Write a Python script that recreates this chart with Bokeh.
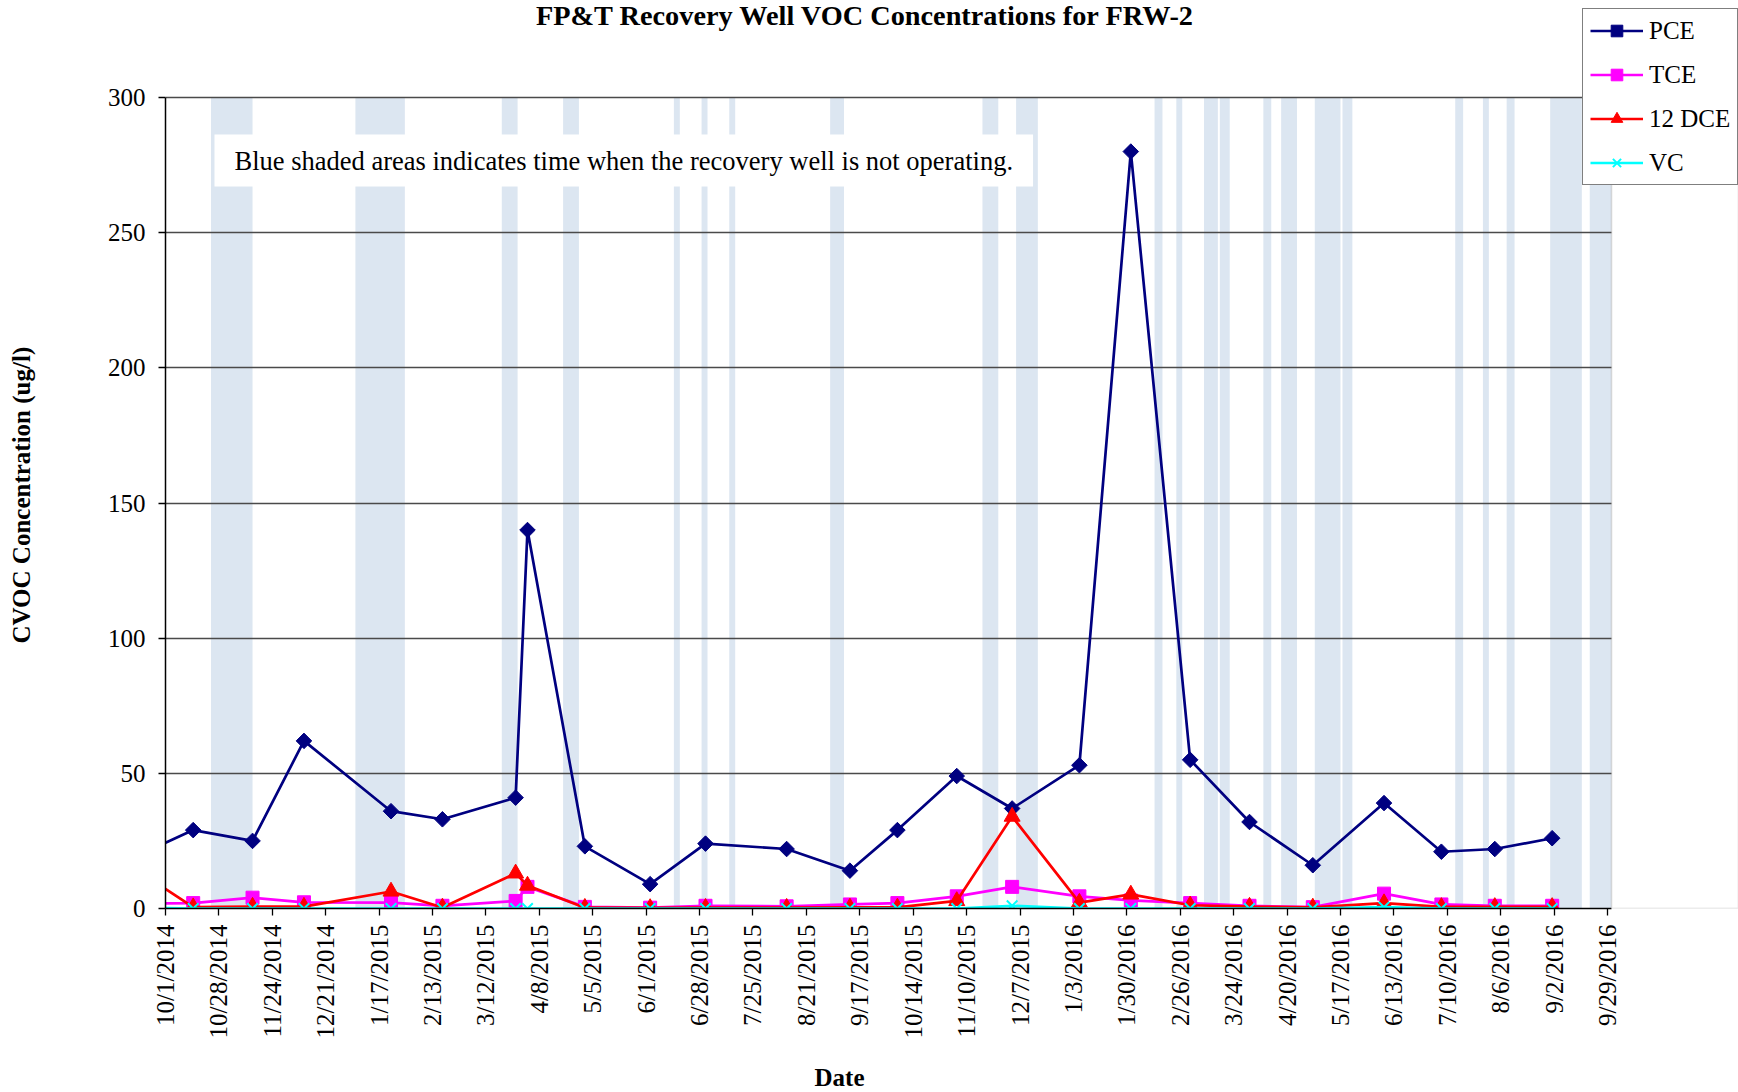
import math
from datetime import datetime
from bokeh.plotting import figure
from bokeh.models import (Range1d, FixedTicker, Label, Legend, LegendItem, Title, BoxAnnotation,
                          LinearAxis)
from bokeh.embed import file_html
from bokeh.resources import INLINE

# ---------------- data ----------------
sample_dates = ["2014-09-15", "2014-10-15", "2014-11-14", "2014-12-10", "2015-01-23",
                "2015-02-18", "2015-03-27", "2015-04-02", "2015-05-01", "2015-06-03",
                "2015-07-01", "2015-08-11", "2015-09-12", "2015-10-06", "2015-11-05",
                "2015-12-03", "2016-01-06", "2016-02-01", "2016-03-02", "2016-04-01",
                "2016-05-03", "2016-06-08", "2016-07-07", "2016-08-03", "2016-09-01"]
pce = [19, 29, 25, 62, 36, 33, 41, 140, 23, 9, 24, 22, 14, 29, 49, 37, 53, 280, 55, 32, 16, 39, 21, 22, 26]
tce = [1.8, 2, 4, 2.3, 2.2, 1, 2.8, 8, 0.6, 0.3, 1, 0.8, 1.5, 2, 4.5, 8, 4.5, 3, 2, 1, 0.5, 5.5, 1.5, 1, 1]
dce12 = [15, 0.5, 0.7, 0.7, 6.3, 0.4, 13, 8.5, 0.3, 0.2, 0.3, 0.3, 0.4, 0.4, 2.8, 34, 2.2, 5.2, 1.2, 0.7, 0.4, 2, 0.6, 0.6, 0.6]
vc = [0.3, 0, 0, 0, 0, 0, 0, 0, 0, 0, 0, 0, 0, 0, 0, 1.0, 0, 0, 0, 0, 0, 0.5, 0, 0, 0]

# periods when the recovery well was not operating
off_start = ["2014-10-24", "2015-01-05", "2015-03-20", "2015-04-20", "2015-06-15", "2015-06-29",
             "2015-07-13", "2015-09-02", "2015-11-18", "2015-12-05", "2016-02-13", "2016-02-24",
             "2016-03-09", "2016-03-17", "2016-04-08", "2016-04-17", "2016-05-04", "2016-05-18",
             "2016-07-14", "2016-07-28", "2016-08-09", "2016-08-31", "2016-09-20"]
off_end = ["2014-11-14", "2015-01-30", "2015-03-28", "2015-04-28", "2015-06-18", "2015-07-02",
           "2015-07-16", "2015-09-09", "2015-11-26", "2015-12-16", "2016-02-17", "2016-02-27",
           "2016-03-16", "2016-03-22", "2016-04-12", "2016-04-25", "2016-05-17", "2016-05-23",
           "2016-07-18", "2016-07-31", "2016-08-13", "2016-09-16", "2016-10-01"]

x_tick_labels = ["10/1/2014", "10/28/2014", "11/24/2014", "12/21/2014", "1/17/2015", "2/13/2015",
                 "3/12/2015", "4/8/2015", "5/5/2015", "6/1/2015", "6/28/2015", "7/25/2015",
                 "8/21/2015", "9/17/2015", "10/14/2015", "11/10/2015", "12/7/2015", "1/3/2016",
                 "1/30/2016", "2/26/2016", "3/24/2016", "4/20/2016", "5/17/2016", "6/13/2016",
                 "7/10/2016", "8/6/2016", "9/2/2016", "9/29/2016"]
y_ticks = [0, 50, 100, 150, 200, 250, 300]
x_start, x_end = "2014-10-01", "2016-10-01"

title_text = "FP&T Recovery Well VOC Concentrations for FRW-2"
y_label_text = "CVOC Concentration (ug/l)"
x_label_text = "Date"
note_text = "Blue shaded areas indicates time when the recovery well is not operating."

# ---------------- layout (pixels) ----------------
W, H = 1738, 1092
PLOT_L, PLOT_R, PLOT_T, PLOT_B = 165, 1611, 97, 908   # plot area of the chart
FONT = "Liberation Serif"

EPOCH = datetime(1970, 1, 1)
def iso(s):
    return datetime.strptime(s, "%Y-%m-%d")
def ms(d):
    return (d - EPOCH).total_seconds() * 1000.0

xs = [iso(s) for s in sample_dates]
tick_ms = [ms(datetime.strptime(s, "%m/%d/%Y")) for s in x_tick_labels]

# the frame runs to the right and top canvas edges, so that legend and title may overlap it
x0, x1 = ms(iso(x_start)), ms(iso(x_end))
x_view_end = x1 + (x1 - x0) * (W - PLOT_R) / (PLOT_R - PLOT_L)
y_view_end = y_ticks[-1] * (PLOT_B - 0) / (PLOT_B - PLOT_T)

p = figure(width=W, height=H, x_axis_type="datetime",
           x_range=Range1d(x0, x_view_end), y_range=Range1d(y_ticks[0], y_view_end),
           output_backend="svg", toolbar_location=None,
           min_border_left=PLOT_L, min_border_right=0, min_border_top=0, min_border_bottom=H - PLOT_B)
p.title.visible = False
p.background_fill_color = "white"
p.border_fill_color = "white"
p.outline_line_color = None

# shaded bands (behind the grid)
p.quad(left=[iso(s) for s in off_start], right=[iso(s) for s in off_end],
       bottom=y_ticks[0], top=y_ticks[-1], fill_color="#DCE6F1", line_color=None, level="image")

# grid
p.xgrid.visible = False
p.ygrid.grid_line_color = "#4a4a4a"
p.ygrid.grid_line_width = 1.3

# axes
p.yaxis.ticker = FixedTicker(ticks=y_ticks)
p.yaxis.bounds = (y_ticks[0], y_ticks[-1])
p.xaxis.ticker = FixedTicker(ticks=tick_ms)
p.xaxis.bounds = (x0, x1)
p.xaxis.major_label_overrides = {t: lab for t, lab in zip(tick_ms, x_tick_labels)}
p.xaxis.major_label_orientation = math.pi / 2
for ax in (p.xaxis, p.yaxis):
    ax.major_label_text_font = FONT
    ax.major_label_text_font_size = "25px"
    ax.major_label_text_color = "black"
    ax.axis_line_color = "black"
    ax.axis_line_width = 1.5
    ax.major_tick_line_color = "black"
    ax.major_tick_line_width = 1.3
    ax.major_tick_out = 7
    ax.major_tick_in = 0
    ax.minor_tick_line_color = None
p.xaxis.major_label_standoff = 9
p.yaxis.major_label_standoff = 13

# white area right of the plot area, with the grey plot-area border
p.add_layout(BoxAnnotation(left=x1, top=y_ticks[-1], fill_color="white", fill_alpha=1,
                           line_color="#808080", line_width=1.5))

# series
series = [
    ("PCE", pce, "#000080", "square", 11, math.pi / 4),
    ("TCE", tce, "#FF00FF", "square", 13, 0),
    ("12 DCE", dce12, "#FF0000", "triangle", 16, 0),
    ("VC", vc, "#00FFFF", "x", 15, 0),
]
items = []
for name, vals, col, mk, sz, ang in series:
    ln = p.line(xs, vals, line_color=col, line_width=2.7)
    sc = p.scatter(xs, vals, marker=mk, size=sz, angle=ang, fill_color=col, line_color=col,
                   line_width=2 if mk == "x" else 1)
    items.append(LegendItem(label=name, renderers=[ln, sc]))

legend = Legend(items=items, location=(1582 - PLOT_L, PLOT_B - 185), orientation="vertical",
                label_text_font=FONT, label_text_font_size="25px", label_text_color="black",
                glyph_width=53, glyph_height=29, label_height=29, spacing=15, padding=7,
                label_standoff=6, margin=0, border_line_color="black", border_line_width=1,
                background_fill_color="white", background_fill_alpha=1)
p.add_layout(legend)

# chart title and the note (inside the frame)
p.add_layout(Label(x=865 - PLOT_L, y=PLOT_B - 15, x_units="screen", y_units="screen", text=title_text,
                   text_font=FONT, text_font_style="bold", text_font_size="28.3px",
                   text_align="center", text_baseline="alphabetic", text_color="black"))
p.add_layout(Label(x=214 - PLOT_L, y=PLOT_B - 160, x_units="screen", y_units="screen", text=note_text,
                   text_font=FONT, text_font_size="26.5px", text_align="left",
                   text_baseline="middle", text_color="black",
                   background_fill_color="white", background_fill_alpha=1,
                   padding=dict(left=20, right=20, top=11, bottom=11)))

# blank axes used as spacers, so that the axis titles sit where the reference has them
def spacer(size, at):
    return LinearAxis(ticker=FixedTicker(ticks=[at]), major_tick_out=size, major_tick_in=0,
                      major_tick_line_color="white", major_tick_line_width=1,
                      major_label_overrides={at: ""}, major_label_text_font_size="0px",
                      major_label_standoff=0, axis_label_standoff=0,
                      axis_line_color=None, minor_tick_line_color=None)
p.add_layout(spacer(68, y_ticks[0]), "left")
p.add_layout(Title(text=y_label_text, align="left", offset=PLOT_B - 643, standoff=0,
                   vertical_align="top", text_font=FONT, text_font_style="bold",
                   text_font_size="25px", text_color="black"), "left")
p.add_layout(spacer(22, x0), "below")
p.add_layout(Title(text=x_label_text, align="left", offset=814 - PLOT_L, standoff=0,
                   vertical_align="top", text_font=FONT, text_font_style="bold",
                   text_font_size="25px", text_color="black"), "below")

open("out.html", "w").write(file_html(p, INLINE))
